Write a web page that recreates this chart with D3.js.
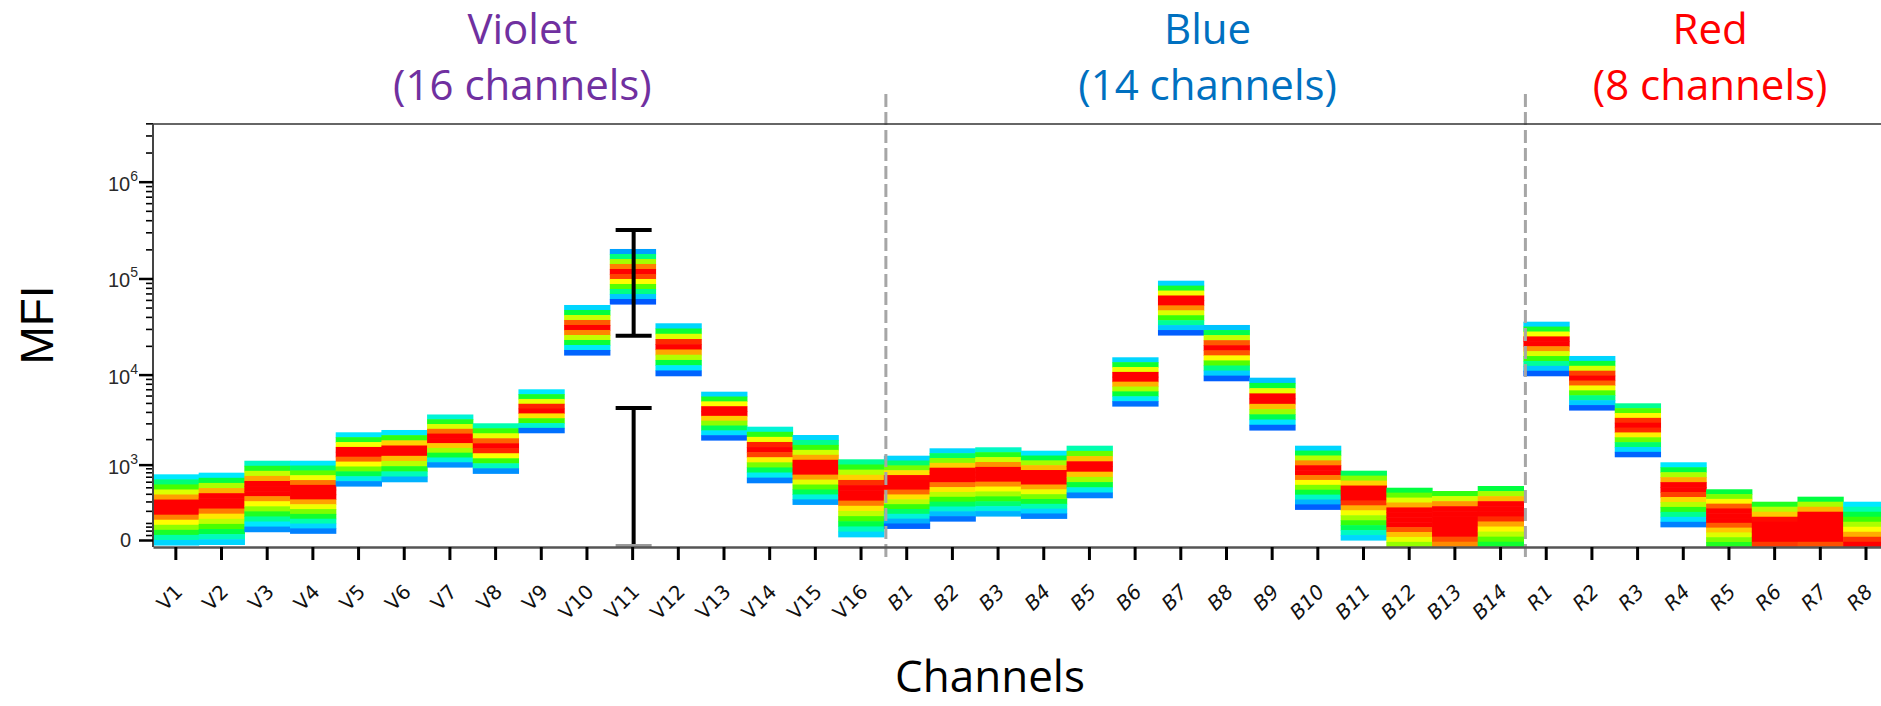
<!DOCTYPE html>
<html>
<head>
<meta charset="utf-8">
<script src="https://cdn.jsdelivr.net/npm/d3@7/dist/d3.min.js"></script>
<style>
  body { margin: 0; background: #fff; }
</style>
</head>
<body>
<svg id="chart" width="1881" height="706"></svg>
<script>
// channels, grouped by laser
const channels = ["V1","V2","V3","V4","V5","V6","V7","V8","V9","V10","V11","V12","V13","V14","V15","V16",
                  "B1","B2","B3","B4","B5","B6","B7","B8","B9","B10","B11","B12","B13","B14",
                  "R1","R2","R3","R4","R5","R6","R7","R8"];

// MFI: low edge, peak, high edge of each population
const mfiLow  = [-25, -22, 44, 35, 522, 600, 934, 777, 2364, 16056, 54440, 9740, 1954, 581, 267, 16,
                 64, 114, 154, 135, 347, 4634, 25960, 8626, 2534, 215, 0, -35, -35, -35,
                 9740, 4198, 1249, 74, -35, -35, -35, -35];
const mfiPeak = [242, 343, 510, 456, 1431, 1569, 2142, 1638, 4272, 31660, 119560, 20420, 4198, 1569, 942, 456,
                 600, 777, 815, 738, 989, 9506, 59900, 19600, 5606, 900, 430, 148, 189, 242,
                 22640, 9506, 2878, 510, 177, 86, 148, -60];
const mfiHigh = [753, 791, 1117, 1117, 2388, 2534, 3752, 3006, 6992, 53160, 201800, 34340, 6594, 2756, 2226, 1162,
                 1284, 1569, 1612, 1471, 1682, 15190, 94860, 32980, 9276, 1682, 839, 493, 441, 522,
                 35680, 15680, 4956, 1069, 468, 297, 360, 297];

// relative density (0..1) at the low and high edge of each population
const densLow  = [.20,.20,.12,.10,.12,.16,.12,.12,.08,.06,.04,.06,.06,.10,.14,.20,
                  .06,.08,.16,.10,.10,.08,.05,.05,.06,.05,.20,.52,.72,.40,
                  .05,.05,.06,.10,.42,.77,.76,.76];
const densHigh = [.22,.22,.28,.22,.22,.22,.26,.30,.22,.20,.14,.20,.20,.26,.20,.32,
                  .20,.20,.28,.22,.30,.20,.20,.18,.18,.20,.36,.38,.44,.38,
                  .20,.20,.32,.22,.38,.42,.38,.22];

// error bars (V11)
const errChannel = ["V11", "V11"];
const errLow  = [25500, -30];
const errHigh = [317000, 4400];

// laser groups
const groupNames  = ["Violet", "Blue", "Red"];
const groupCounts = ["(16 channels)", "(14 channels)", "(8 channels)"];
const groupFirst  = ["V1", "B1", "R1"];
const groupLast   = ["V16", "B14", "R8"];
const groupColors = ["#7030a0", "#0070c0", "#ff0000"];

// y axis ticks
const majorTicks = [0, 1e3, 1e4, 1e5, 1e6];
const majorExp   = ["", "3", "4", "5", "6"];
const minorTicks = [25, 50, 75, 100, 200, 300, 400, 500, 600, 700, 800, 900,
                    2e3, 3e3, 4e3, 5e3, 6e3, 7e3, 8e3, 9e3,
                    2e4, 3e4, 4e4, 5e4, 6e4, 7e4, 8e4, 9e4,
                    2e5, 3e5, 4e5, 5e5, 6e5, 7e5, 8e5, 9e5,
                    2e6, 3e6, 4e6];

let svg = d3.select("#chart");
let plotLeft = 153, plotTop = 124, plotBottom = 547;

let x = d3.scaleBand()
    .domain(channels)
    .range([plotLeft, plotLeft + 38 * 45.68])
    .padding(0);

// biexponential-like display, close to the logicle axis of the original
let y = d3.scaleSymlog()
    .constant(200)
    .domain([-34.5, 3.94e6])
    .range([546.7, plotTop]);

// pseudocolour ramp: low density blue -> high density red
let heat = d3.scaleLinear()
    .domain([0, .08, .14, .22, .30, .38, .46, .54, .62, .70, .76, .80, 1])
    .range(["#0040ff", "#0070ff", "#00a0ff", "#00e8ff", "#00ffb0", "#00ff40", "#40ff00",
            "#b0ff00", "#ffff00", "#ffa800", "#ff5000", "#ff0000", "#ff0000"])
    .interpolate(d3.interpolateRgb)
    .clamp(true);

// population boxes, cut into horizontal density stripes
let boxLayer = svg.append("g");
channels.forEach(function (ch, i) {
    let yHi = y(mfiHigh[i]), yLo = y(mfiLow[i]), yPk = y(mfiPeak[i]);
    let n = Math.max(2, Math.round((yLo - yHi) / 5));
    let h = (yLo - yHi) / n;
    for (let k = 0; k < n; k++) {
        let t0 = yHi + k * h, t1 = t0 + h;
        let level;
        if ((t0 + t1) / 2 <= yPk) {
            let d = Math.min(1, Math.max(0, (yPk - t0) / (yPk - yHi)));
            level = densHigh[i] + (1 - densHigh[i]) * (1 - d);
        } else {
            let d = Math.min(1, Math.max(0, (t1 - yPk) / (yLo - yPk)));
            level = densLow[i] + (1 - densLow[i]) * (1 - d);
        }
        boxLayer.append("rect")
            .attr("x", x(ch))
            .attr("y", t0)
            .attr("width", x.bandwidth() + 0.6)
            .attr("height", h + 0.6)
            .attr("fill", heat(level));
    }
});

// group separators
svg.selectAll(".sep")
    .data(groupFirst.slice(1))
    .join("line")
    .attr("class", "sep")
    .attr("x1", d => x(d) + 2)
    .attr("x2", d => x(d) + 2)
    .attr("y1", 94)
    .attr("y2", 558)
    .attr("stroke", "#a6a6a6")
    .attr("stroke-width", 3)
    .attr("stroke-dasharray", "13,5");

// top frame line
svg.append("line")
    .attr("x1", plotLeft).attr("x2", 1881)
    .attr("y1", plotTop).attr("y2", plotTop)
    .attr("stroke", "#333").attr("stroke-width", 1.5);

// error bars
errChannel.forEach(function (ch, i) {
    let cx = x(ch) + x.bandwidth() / 2 + 1;
    let g = svg.append("g");
    g.append("line")
        .attr("x1", cx).attr("x2", cx)
        .attr("y1", y(errHigh[i])).attr("y2", y(errLow[i]))
        .attr("stroke", "#000").attr("stroke-width", 4);
    [errHigh[i], errLow[i]].forEach(function (v) {
        g.append("line")
            .attr("x1", cx - 18).attr("x2", cx + 18)
            .attr("y1", y(v)).attr("y2", y(v))
            .attr("stroke", v <= 0 ? "#9a9a9a" : "#000")
            .attr("stroke-width", 4);
    });
});

// x axis
let xAxis = svg.append("g")
    .attr("transform", "translate(0," + plotBottom + ")")
    .call(d3.axisBottom(x).tickSize(13).tickSizeOuter(0));
xAxis.select(".domain").attr("stroke", "#555").attr("stroke-width", 2.5);
xAxis.selectAll(".tick line").attr("stroke", "#000").attr("stroke-width", 3);
xAxis.selectAll(".tick text")
    .attr("x", 0).attr("y", 0).attr("dy", 0)
    .attr("transform", "translate(8,46) rotate(-45)")
    .attr("text-anchor", "end")
    .style("font-family", "DejaVu Sans")
    .style("font-size", "20px")
    .style("font-style", d => d[0] === "V" ? "normal" : "italic")
    .attr("fill", "#111");

// y axis, minor then major ticks
let yMinor = svg.append("g")
    .attr("transform", "translate(" + plotLeft + ",0)")
    .call(d3.axisLeft(y).tickValues(minorTicks).tickSize(7).tickSizeOuter(0).tickFormat(""));
yMinor.selectAll(".tick line").attr("stroke", "#000").attr("stroke-width", 1.6);
yMinor.select(".domain").remove();

let yMajor = svg.append("g")
    .attr("transform", "translate(" + plotLeft + ",0)")
    .call(d3.axisLeft(y).tickValues(majorTicks).tickSize(14).tickSizeOuter(0).tickFormat(""));
yMajor.selectAll(".tick line").attr("stroke", "#000").attr("stroke-width", 2.5);
yMajor.select(".domain")
    .attr("d", "M0," + plotTop + "V" + plotBottom)
    .attr("stroke", "#444").attr("stroke-width", 2);

majorTicks.forEach(function (v, i) {
    let t = svg.append("text")
        .attr("x", v === 0 ? 131 : 138)
        .attr("y", y(v) + (v === 0 ? 7 : 9))
        .attr("text-anchor", "end")
        .style("font-family", "Liberation Sans")
        .style("font-size", "20px")
        .attr("fill", "#2a2a2a");
    if (v === 0) {
        t.text("0");
    } else {
        t.append("tspan").text("10");
        t.append("tspan").attr("dy", -10).style("font-size", "14px").text(majorExp[i]);
    }
});

// axis titles
svg.append("text")
    .attr("transform", "translate(53,325) rotate(-90)")
    .attr("text-anchor", "middle")
    .style("font-family", "Liberation Sans")
    .style("font-size", "46px")
    .attr("fill", "#000")
    .text("MFI");

svg.append("text")
    .attr("x", 990)
    .attr("y", 692)
    .attr("text-anchor", "middle")
    .style("font-family", "Open Sans")
    .style("font-size", "44px")
    .attr("fill", "#000")
    .text("Channels");

// laser group headings
groupNames.forEach(function (name, i) {
    let cx = (x(groupFirst[i]) + x(groupLast[i]) + x.bandwidth()) / 2 + 4;
    let t = svg.append("text")
        .attr("text-anchor", "middle")
        .style("font-family", "Open Sans")
        .style("font-size", "42px")
        .attr("fill", groupColors[i]);
    t.append("tspan").attr("x", cx).attr("y", 44).text(name);
    t.append("tspan").attr("x", cx).attr("y", 100).text(groupCounts[i]);
});
</script>
</body>
</html>
